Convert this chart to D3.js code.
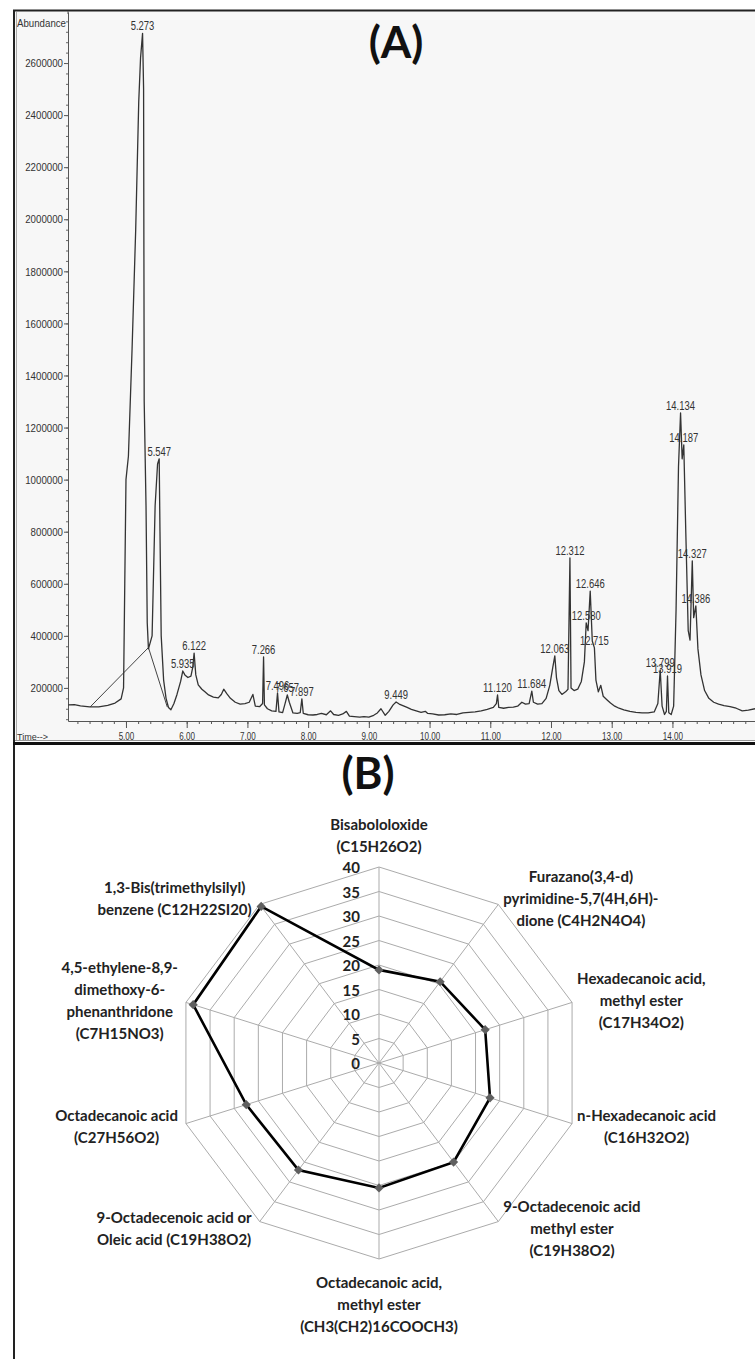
<!DOCTYPE html>
<html>
<head>
<meta charset="utf-8">
<script src="https://cdn.jsdelivr.net/npm/d3@7"></script>
<style>
  body { margin: 0; background: #fff; }
  svg { display: block; }
</style>
</head>
<body>
<svg id="fig" width="755" height="1359"></svg>
<script>
(function (d3) {
  'use strict';

  // ---------- (A) chromatogram data ----------
  const abundTicks = [200000, 400000, 600000, 800000, 1000000, 1200000, 1400000,
    1600000, 1800000, 2000000, 2200000, 2400000, 2600000];
  const timeTicks = [5, 6, 7, 8, 9, 10, 11, 12, 13, 14];

  const peakTimes = [5.273, 5.547, 5.935, 6.122, 7.266, 7.496, 7.657, 7.897, 9.449,
    11.120, 11.684, 12.063, 12.312, 12.580, 12.646, 12.715, 13.799, 13.919,
    14.134, 14.187, 14.327, 14.386];
  const peakLabels = ['5.273', '5.547', '5.935', '6.122', '7.266', '7.496', '7.657', '7.897', '9.449',
    '11.120', '11.684', '12.063', '12.312', '12.580', '12.646', '12.715', '13.799', '13.919',
    '14.134', '14.187', '14.327', '14.386'];
  const peakHeights = [2714000, 1080000, 265000, 334000, 319000, 181000, 173000, 158000, 146000,
    173000, 188000, 323000, 699000, 450000, 572000, 354000, 269000, 246000,
    1256000, 1133000, 688000, 515000];

  // [time (min), abundance]
  const tracePoints = [
    [4.05, 135000], [4.15, 136000], [4.25, 131000], [4.40, 127000], [4.55, 127000],
    [4.70, 133000], [4.82, 142000], [4.92, 158000], [4.96, 200000], [4.98, 600000],
    [5.00, 1000000], [5.04, 1090000], [5.10, 1500000], [5.16, 1960000], [5.21, 2450000],
    [5.24, 2620000], [5.273, 2714000], [5.29, 2500000], [5.30, 1300000], [5.33, 900000],
    [5.35, 450000], [5.37, 350000], [5.43, 400000], [5.48, 900000], [5.52, 1060000],
    [5.547, 1080000], [5.56, 800000], [5.58, 400000], [5.62, 230000], [5.66, 160000],
    [5.70, 125000], [5.74, 116000], [5.79, 140000], [5.84, 175000], [5.90, 225000],
    [5.935, 265000], [5.97, 250000], [6.02, 240000], [6.07, 245000], [6.10, 280000],
    [6.122, 334000], [6.15, 250000], [6.19, 212000], [6.25, 195000], [6.30, 185000],
    [6.36, 173000], [6.44, 165000], [6.52, 162000], [6.57, 175000], [6.61, 195000],
    [6.66, 178000], [6.72, 160000], [6.80, 145000], [6.88, 138000], [6.96, 140000],
    [7.03, 145000], [7.09, 175000], [7.13, 130000], [7.20, 128000], [7.25, 140000],
    [7.266, 319000], [7.28, 135000], [7.33, 120000], [7.40, 112000], [7.47, 110000],
    [7.496, 181000], [7.52, 108000], [7.58, 105000], [7.62, 140000], [7.657, 173000],
    [7.69, 145000], [7.75, 104000], [7.82, 102000], [7.87, 105000], [7.897, 158000],
    [7.92, 102000], [8.00, 97000], [8.08, 96000], [8.15, 98000], [8.22, 102000],
    [8.30, 97000], [8.37, 112000], [8.42, 98000], [8.50, 95000], [8.57, 100000],
    [8.63, 110000], [8.68, 92000], [8.76, 90000], [8.85, 88000], [8.92, 90000],
    [9.00, 88000], [9.08, 95000], [9.14, 104000], [9.20, 120000], [9.27, 95000],
    [9.33, 110000], [9.40, 135000], [9.449, 146000], [9.50, 138000], [9.56, 132000],
    [9.63, 125000], [9.70, 118000], [9.78, 112000], [9.86, 106000], [9.93, 110000],
    [9.97, 102000], [10.05, 100000], [10.15, 96000], [10.25, 97000], [10.35, 100000],
    [10.45, 98000], [10.55, 104000], [10.65, 106000], [10.75, 108000], [10.85, 112000],
    [10.95, 118000], [11.05, 125000], [11.10, 140000], [11.120, 173000], [11.14, 125000],
    [11.22, 122000], [11.30, 125000], [11.38, 126000], [11.45, 130000], [11.52, 145000],
    [11.58, 138000], [11.64, 140000], [11.684, 188000], [11.71, 145000], [11.78, 138000],
    [11.85, 140000], [11.92, 160000], [11.98, 210000], [12.03, 280000], [12.063, 323000],
    [12.09, 240000], [12.13, 190000], [12.18, 175000], [12.24, 185000], [12.28, 195000],
    [12.312, 699000], [12.33, 200000], [12.38, 190000], [12.44, 195000], [12.50, 225000],
    [12.55, 300000], [12.580, 450000], [12.61, 420000], [12.646, 572000], [12.68, 380000],
    [12.715, 354000], [12.74, 230000], [12.78, 185000], [12.82, 210000], [12.86, 168000],
    [12.92, 155000], [12.98, 142000], [13.05, 130000], [13.12, 122000], [13.20, 116000],
    [13.30, 110000], [13.40, 106000], [13.50, 104000], [13.60, 104000], [13.70, 108000],
    [13.76, 140000], [13.799, 269000], [13.83, 130000], [13.87, 98000], [13.90, 110000],
    [13.919, 246000], [13.94, 105000], [13.98, 98000], [14.02, 130000], [14.06, 500000],
    [14.10, 1050000], [14.134, 1256000], [14.16, 1080000], [14.187, 1133000], [14.22, 800000],
    [14.26, 420000], [14.29, 384000], [14.327, 688000], [14.35, 470000], [14.386, 515000],
    [14.42, 350000], [14.47, 250000], [14.53, 190000], [14.60, 160000], [14.68, 145000],
    [14.76, 138000], [14.85, 132000], [14.95, 128000], [15.05, 122000], [15.15, 112000],
    [15.25, 115000], [15.36, 120000]
  ];

  // integration baselines drawn under the first peaks
  const baselineSegments = [
    [[4.41, 127000], [5.37, 355000]],
    [[5.37, 355000], [5.68, 127000]]
  ];

  // ---------- (B) radar data ----------
  const radarNames = [
    ['Bisabololoxide', '(C15H26O2)'],
    ['Furazano(3,4-d)', 'pyrimidine-5,7(4H,6H)-', 'dione (C4H2N4O4)'],
    ['Hexadecanoic acid,', 'methyl ester', '(C17H34O2)'],
    ['n-Hexadecanoic acid', '(C16H32O2)'],
    ['9-Octadecenoic acid', 'methyl ester', '(C19H38O2)'],
    ['Octadecanoic acid,', 'methyl ester', '(CH3(CH2)16COOCH3)'],
    ['9-Octadecenoic acid or', 'Oleic acid (C19H38O2)'],
    ['Octadecanoic acid', '(C27H56O2)'],
    ['4,5-ethylene-8,9-', 'dimethoxy-6-', 'phenanthridone', '(C7H15NO3)'],
    ['1,3-Bis(trimethylsilyl)', 'benzene (C12H22SI20)']
  ];
  const radarValues = [19, 20.5, 22, 23, 25, 25.5, 27, 27.5, 38.5, 39.5];
  const radarTicks = [0, 5, 10, 15, 20, 25, 30, 35, 40];

  const plain = '"Liberation Sans", Arial, sans-serif';
  const calib = 'Lato, "Open Sans", sans-serif';

  // squeeze a plain sans label to the narrow width used by the instrument software
  const narrowLen = (s, dw, pw) => s.split('').reduce((w, ch) => w + (/[.\-,]/.test(ch) ? pw : dw), 0);
  const squeeze = (sel, dw, pw) => sel
    .attr('textLength', function () { return narrowLen(this.textContent, dw, pw); })
    .attr('lengthAdjust', 'spacingAndGlyphs');

  const svg = d3.select('svg#fig');
  const W = 755, H = 1359;

  // ---------- frame ----------
  svg.append('rect').attr('width', W).attr('height', H).attr('fill', '#fff');
  svg.append('rect')
    .attr('x', 15).attr('y', 11).attr('width', W - 15).attr('height', 729)
    .attr('fill', '#f7f7f7');
  svg.append('line').attr('x1', 13).attr('x2', W).attr('y1', 10.5).attr('y2', 10.5)
    .attr('stroke', '#222').attr('stroke-width', 2);
  svg.append('line').attr('x1', 14).attr('x2', 14).attr('y1', 10).attr('y2', H)
    .attr('stroke', '#222').attr('stroke-width', 2);
  svg.append('line').attr('x1', 16.5).attr('x2', 16.5).attr('y1', 12).attr('y2', 740)
    .attr('stroke', '#aaa').attr('stroke-width', 1);
  svg.append('line').attr('x1', 15).attr('x2', W).attr('y1', 740.5).attr('y2', 740.5)
    .attr('stroke', '#999').attr('stroke-width', 1);
  svg.append('line').attr('x1', 13).attr('x2', W).attr('y1', 743.5).attr('y2', 743.5)
    .attr('stroke', '#111').attr('stroke-width', 3);

  // ---------- (A) chromatogram ----------
  const x = d3.scaleLinear().domain([4.045, 15.36]).range([68, 755]);
  const y = d3.scaleLinear().domain([73000, 2796000]).range([721, 12]);

  const gA = svg.append('g');

  // y axis
  const yAxisG = gA.append('g')
    .attr('transform', 'translate(68,0)')
    .call(d3.axisLeft(y)
      .tickValues(abundTicks)
      .tickSize(4)
      .tickSizeOuter(0)
      .tickPadding(1)
      .tickFormat(d3.format('d')))
    .attr('font-family', plain)
    .attr('font-size', 11.5);
  yAxisG.select('.domain').attr('stroke', '#555');
  yAxisG.selectAll('.tick line').attr('stroke', '#555');
  yAxisG.selectAll('text').attr('fill', '#333').call(squeeze, 5.4, 2.6);

  gA.append('g')
    .attr('transform', 'translate(68,0)')
    .call(d3.axisLeft(y)
      .tickValues(d3.range(80000, 2790000, 40000))
      .tickSize(2)
      .tickSizeOuter(0)
      .tickFormat(''))
    .call(g => g.select('.domain').remove())
    .selectAll('.tick line').attr('stroke', '#666');

  // x axis
  const xAxisG = gA.append('g')
    .attr('transform', 'translate(0,721)')
    .call(d3.axisBottom(x)
      .tickValues(timeTicks)
      .tickSize(7)
      .tickSizeOuter(0)
      .tickPadding(4)
      .tickFormat(d3.format('.2f')))
    .attr('font-family', plain)
    .attr('font-size', 11);
  xAxisG.select('.domain').attr('stroke', '#555');
  xAxisG.selectAll('.tick line').attr('stroke', '#555');
  xAxisG.selectAll('text').attr('fill', '#333').call(squeeze, 4.5, 2.2);

  gA.append('g')
    .attr('transform', 'translate(0,721)')
    .call(d3.axisBottom(x)
      .tickValues(d3.range(4.2, 15.4, 0.2))
      .tickSize(3)
      .tickSizeOuter(0)
      .tickFormat(''))
    .call(g => g.select('.domain').remove())
    .selectAll('.tick line').attr('stroke', '#555');

  gA.append('text')
    .attr('x', 17).attr('y', 27)
    .attr('font-family', plain).attr('font-size', 10.5).attr('fill', '#333')
    .attr('textLength', 49).attr('lengthAdjust', 'spacingAndGlyphs')
    .text('Abundance');
  gA.append('line').attr('x1', 68).attr('x2', 68).attr('y1', 11).attr('y2', 14)
    .attr('stroke', '#555');

  gA.append('text')
    .attr('x', 17).attr('y', 740)
    .attr('font-family', plain).attr('font-size', 9).attr('fill', '#333')
    .attr('textLength', 31).attr('lengthAdjust', 'spacingAndGlyphs')
    .text('Time-->');

  const line = d3.line().x(d => x(d[0])).y(d => y(d[1]));

  gA.selectAll('.baseline')
    .data(baselineSegments)
    .join('path')
      .attr('class', 'baseline')
      .attr('d', line)
      .attr('fill', 'none')
      .attr('stroke', '#444')
      .attr('stroke-width', 1);

  gA.append('path')
    .datum(tracePoints)
    .attr('d', line)
    .attr('fill', 'none')
    .attr('stroke', '#333')
    .attr('stroke-width', 1.3)
    .attr('stroke-linejoin', 'round');

  gA.selectAll('.peak-label')
    .data(d3.zip(peakTimes, peakHeights, peakLabels))
    .join('text')
      .attr('class', 'peak-label')
      .attr('x', d => x(d[0]))
      .attr('y', d => y(d[1]) - 3)
      .attr('text-anchor', 'middle')
      .attr('font-family', plain)
      .attr('font-size', 12)
      .attr('fill', '#333')
      .text(d => d[2])
      .call(squeeze, 5.3, 2.4);

  svg.append('text')
    .attr('x', 396).attr('y', 58)
    .attr('text-anchor', 'middle')
    .attr('font-family', calib).attr('font-weight', 'bold').attr('font-size', 44)
    .attr('fill', '#111')
    .text('(A)');

  // ---------- (B) radar ----------
  svg.append('text')
    .attr('x', 368).attr('y', 789)
    .attr('text-anchor', 'middle')
    .attr('font-family', calib).attr('font-weight', 'bold').attr('font-size', 44)
    .attr('fill', '#111')
    .text('(B)');

  const cx = 379, cy = 1063;
  const rX = d3.scaleLinear().domain([0, 40]).range([0, 203]);
  const rY = d3.scaleLinear().domain([0, 40]).range([0, 196]);
  const n = radarNames.length;
  const ang = i => i * 2 * Math.PI / n;
  const pt = (i, v) => [cx + rX(v) * Math.sin(ang(i)), cy - rY(v) * Math.cos(ang(i))];

  const gB = svg.append('g');

  gB.selectAll('.ring')
    .data(radarTicks.slice(1))
    .join('polygon')
      .attr('class', 'ring')
      .attr('points', t => d3.range(n).map(i => pt(i, t).join(',')).join(' '))
      .attr('fill', 'none')
      .attr('stroke', '#ababab')
      .attr('stroke-width', 1);

  gB.selectAll('.spoke')
    .data(d3.range(n))
    .join('line')
      .attr('class', 'spoke')
      .attr('x1', i => pt(i, 0)[0]).attr('y1', i => pt(i, 0)[1])
      .attr('x2', i => pt(i, 40)[0]).attr('y2', i => pt(i, 40)[1])
      .attr('stroke', '#ababab')
      .attr('stroke-width', 1);

  gB.selectAll('.scale-label')
    .data(radarTicks)
    .join('text')
      .attr('class', 'scale-label')
      .attr('x', cx - 19)
      .attr('y', t => pt(0, t)[1])
      .attr('text-anchor', 'end')
      .attr('dominant-baseline', 'central')
      .attr('font-family', calib).attr('font-weight', 'bold').attr('font-size', 15)
      .attr('fill', '#222')
      .text(t => t);

  const pts = radarValues.map((v, i) => pt(i, v));
  gB.append('path')
    .attr('d', d3.line().curve(d3.curveLinearClosed)(pts))
    .attr('fill', 'none')
    .attr('stroke', '#000')
    .attr('stroke-width', 2.6)
    .attr('stroke-linejoin', 'miter');

  gB.selectAll('.marker')
    .data(pts)
    .join('path')
      .attr('class', 'marker')
      .attr('d', d3.symbol(d3.symbolSquare, 42))
      .attr('transform', d => `translate(${d[0]},${d[1]}) rotate(45)`)
      .attr('fill', '#5f5f5f');

  // category labels, placed outside each vertex like Excel does
  const lineH = 22;
  radarNames.forEach((lines, i) => {
    const a = ang(i);
    const [vx, vy] = pt(i, 40);
    const g = gB.append('g')
      .attr('font-family', calib).attr('font-weight', 'bold').attr('font-size', 15)
      .attr('fill', '#222');
    const texts = lines.map((s, j) => g.append('text')
      .attr('text-anchor', 'middle')
      .attr('dominant-baseline', 'central')
      .attr('y', (j - (lines.length - 1) / 2) * lineH)
      .text(s));
    const w = d3.max(texts, t => t.node().getComputedTextLength());
    const bh = lines.length * lineH;
    const s = Math.sin(a), c = Math.cos(a);
    let bx, by;
    if (Math.abs(s) < 0.1) {
      bx = vx;
      by = c > 0 ? vy - 10 - bh / 2 : vy + 12 + bh / 2;
    } else {
      bx = s > 0 ? vx + 5 + w / 2 : vx - 8 - w / 2;
      by = vy - 8 * c;
    }
    g.attr('transform', `translate(${bx},${by})`);
  });

}(d3));
</script>
</body>
</html>
